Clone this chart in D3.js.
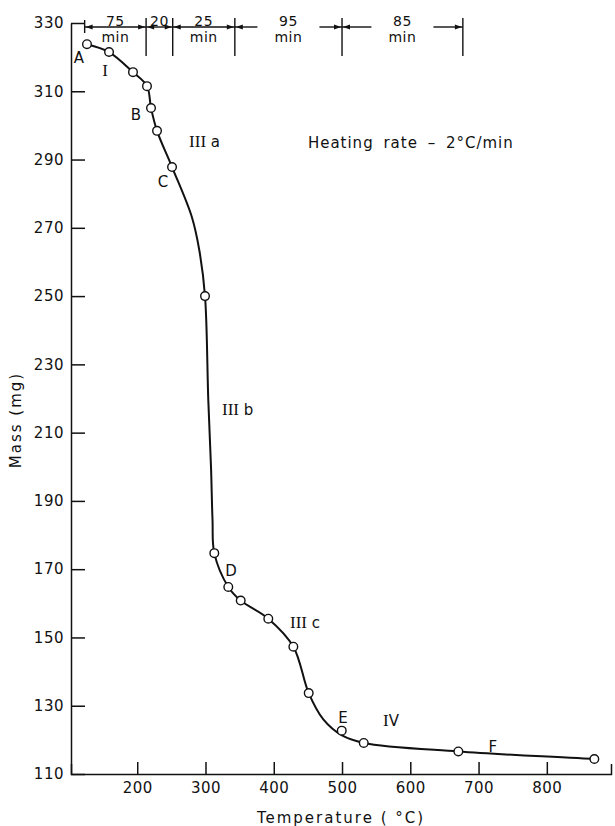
<!DOCTYPE html>
<html>
<head>
<meta charset="utf-8">
<script src="https://cdn.jsdelivr.net/npm/d3@7"></script>
<style>
  body { margin: 0; background: #fff; }
  svg text { font-family: "DejaVu Sans", sans-serif; fill: #111; }
  .axis path, .axis line { stroke: #111; stroke-width: 1.5; }
  .axis text { font-size: 15px; }
</style>
</head>
<body>
<div id="chart"></div>
<script>
const width = 615;
const height = 826;

// measured points (temperature in C, mass in mg)
const pointTemp = [126.4, 158.7, 193.8, 214.3, 220.2, 229, 251, 299.3, 312.9, 333.4, 351.6, 392, 428.7, 451.2, 499.6, 531.8, 670.4, 869.6];
const pointMass = [323.8, 321.5, 315.6, 311.5, 305.1, 298.4, 287.8, 250.0, 174.7, 164.8, 160.8, 155.5, 147.3, 133.7, 122.7, 119.1, 116.6, 114.4];

// drawn curve
const curveTemp = [126.4, 158.7, 193.8, 214.3, 220.2, 229, 251, 279.8, 290.9, 299.3, 304.1, 308.1, 310.3, 312.9, 333.4, 351.6, 392, 428.7, 451.2, 472.6, 500, 531.8, 670.4, 869.6];
const curveMass = [323.8, 321.5, 315.6, 311.5, 305.1, 298.4, 287.8, 273.3, 263.5, 250, 219.6, 199.9, 184.4, 174.7, 164.8, 160.8, 155.5, 147.3, 133.7, 126, 121.3, 119.1, 116.6, 114.4];

const massTicks = [110, 130, 150, 170, 190, 210, 230, 250, 270, 290, 310, 330];
const tempTicks = [200, 300, 400, 500, 600, 700, 800];

// time intervals along the top
const timeEdges = [123, 213, 252, 343, 500, 677];
const timeMinutes = ["75", "20", "25", "95", "85"];
const timeShowMin = [true, false, true, true, true];
const timeInGap = [false, false, false, true, true];

// stage labels
const labelText = ["A", "I", "B", "III a", "C", "III b", "D", "III c", "E", "IV", "F"];
const labelTemp = [114.7, 152.8, 198.2, 276, 237.8, 324.2, 337.4, 423.8, 501.5, 560, 721];
const labelMass = [319.7, 315.9, 303, 295.1, 283.4, 216.6, 169.5, 154.3, 126.4, 125.5, 118];

const x = d3.scaleLinear().domain([103, 894]).range([71, 611]);
const y = d3.scaleLinear().domain([110, 330]).range([774, 23]);

const svg = d3.select("#chart").append("svg")
    .attr("width", width)
    .attr("height", height);

// Axes (ticks point inward)
svg.append("g")
    .attr("class", "axis")
    .attr("transform", `translate(0,${y(110)})`)
    .call(d3.axisBottom(x).tickValues(tempTicks).tickSizeInner(-12).tickSizeOuter(-10).tickPadding(8))
    .call((g) => g.selectAll("text").attr("letter-spacing", 0.5));

svg.append("g")
    .attr("class", "axis")
    .attr("transform", `translate(${x(103)},0)`)
    .call(d3.axisLeft(y).tickValues(massTicks).tickSizeInner(-14).tickSizeOuter(0).tickPadding(7))
    .call((g) => g.selectAll("text").attr("letter-spacing", 0.5));

// Axis titles
svg.append("text")
    .attr("x", (x.range()[0] + x.range()[1]) / 2)
    .attr("y", 823)
    .attr("text-anchor", "middle")
    .attr("font-size", 15)
    .attr("letter-spacing", 2)
    .text("Temperature ( °C)");

svg.append("text")
    .attr("transform", "rotate(-90)")
    .attr("x", -420)
    .attr("y", 21)
    .attr("text-anchor", "middle")
    .attr("font-size", 15)
    .attr("letter-spacing", 2)
    .text("Mass (mg)");

// Curve
const curvePts = curveTemp.map((t, i) => [t, curveMass[i]]);
const line = d3.line()
    .x((d) => x(d[0]))
    .y((d) => y(d[1]))
    .curve(d3.curveCatmullRom.alpha(0.5));

svg.append("path")
    .datum(curvePts)
    .attr("d", line)
    .attr("fill", "none")
    .attr("stroke", "#111")
    .attr("stroke-width", 2);

// Points
svg.append("g")
    .selectAll("circle")
    .data(pointTemp.map((t, i) => [t, pointMass[i]]))
    .join("circle")
    .attr("cx", (d) => x(d[0]))
    .attr("cy", (d) => y(d[1]))
    .attr("r", 4.3)
    .attr("fill", "#fff")
    .attr("stroke", "#111")
    .attr("stroke-width", 1.4);

// Stage labels (roman numerals drawn in a serif face)
const labels = svg.append("g")
    .selectAll("text")
    .data(labelText.map((t, i) => ({ t, temp: labelTemp[i], mass: labelMass[i] })))
    .join("text")
    .attr("x", (d) => x(d.temp))
    .attr("y", (d) => y(d.mass))
    .attr("dy", "0.35em")
    .attr("font-size", 15)
    .attr("text-anchor", (d) => (d.t.length === 1 ? "middle" : "start"));

labels.each(function (d) {
    const el = d3.select(this);
    const m = d.t.match(/^(I+)(.*)$/);
    if (m) {
        el.append("tspan").attr("font-family", "Liberation Serif, serif").attr("font-size", 17).text(m[1]);
        if (m[2]) el.append("tspan").text(m[2]);
    } else {
        el.text(d.t);
    }
});

svg.append("text")
    .attr("x", x(450))
    .attr("y", y(294.9))
    .attr("dy", "0.35em")
    .attr("font-size", 15)
    .attr("letter-spacing", 1)
    .attr("word-spacing", 4)
    .text("Heating rate – 2°C/min");

// Time intervals along the top
const barY = y(330) + 4;
const timeBar = svg.append("g");

timeEdges.forEach((t, i) => {
    const first = i === 0;
    timeBar.append("line")
        .attr("x1", x(t)).attr("x2", x(t))
        .attr("y1", barY - (first ? 7 : 9))
        .attr("y2", barY + (first ? 6 : 29))
        .attr("stroke", "#111")
        .attr("stroke-width", 1.4);
});

const arrow = (px, dir) => {
    // small filled arrowhead pointing toward px
    timeBar.append("path")
        .attr("d", `M${px},${barY}L${px - dir * 7},${barY - 2.5}L${px - dir * 7},${barY + 2.5}Z`)
        .attr("fill", "#111");
};

timeMinutes.forEach((mins, i) => {
    const x0 = x(timeEdges[i]);
    const x1 = x(timeEdges[i + 1]);
    const cx = (x0 + x1) / 2;
    if (timeInGap[i]) {
        timeBar.append("line").attr("x1", x0).attr("x2", cx - 31).attr("y1", barY).attr("y2", barY)
            .attr("stroke", "#111").attr("stroke-width", 1.4);
        timeBar.append("line").attr("x1", cx + 31).attr("x2", x1).attr("y1", barY).attr("y2", barY)
            .attr("stroke", "#111").attr("stroke-width", 1.4);
    } else {
        timeBar.append("line").attr("x1", x0).attr("x2", x1).attr("y1", barY).attr("y2", barY)
            .attr("stroke", "#111").attr("stroke-width", 1.4);
    }
    arrow(x0 + 1, -1);
    arrow(x1 - 1, 1);
    timeBar.append("text")
        .attr("x", cx)
        .attr("y", barY - 1)
        .attr("text-anchor", "middle")
        .attr("font-size", 14)
        .attr("letter-spacing", 0.5)
        .text(mins);
    if (timeShowMin[i]) {
        timeBar.append("text")
            .attr("x", cx)
            .attr("y", barY + 15)
            .attr("text-anchor", "middle")
            .attr("font-size", 14)
            .attr("letter-spacing", 0.5)
            .text("min");
    }
});
</script>
</body>
</html>
